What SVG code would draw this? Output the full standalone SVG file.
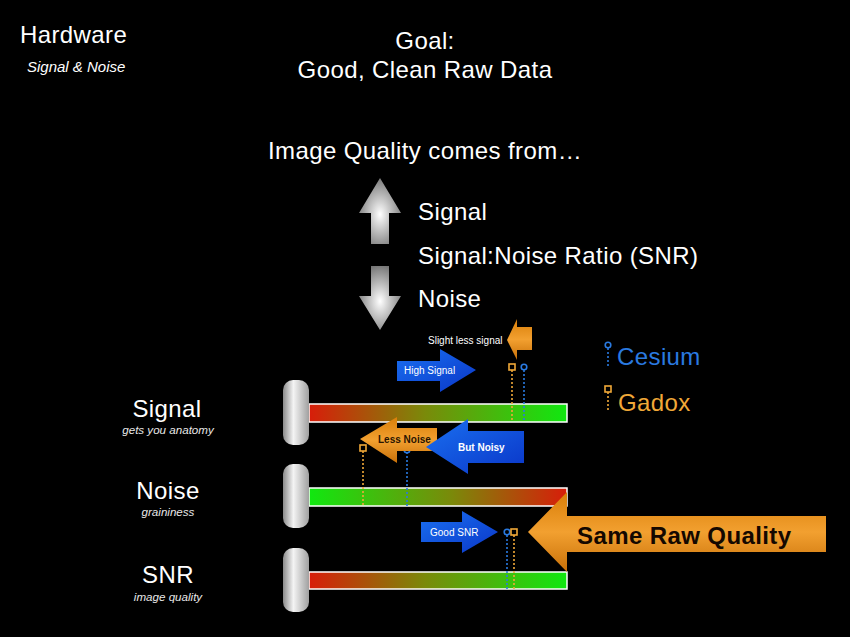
<svg xmlns="http://www.w3.org/2000/svg" width="850" height="637" viewBox="0 0 850 637">
<defs>
<style>
text{font-family:"Liberation Sans",Arial,sans-serif;}
.w{fill:#fff;}
.big{font-size:24px;letter-spacing:0.4px;}
.sub{font-size:11.6px;font-style:italic;fill:#e8e8e8;}
.bar{stroke:#fff;stroke-width:1.5;}
.knob{fill:url(#knob);}
.ces{stroke:#2a7ae0;stroke-width:1.6;stroke-dasharray:2 2;fill:none;}
.gad{stroke:#f0a838;stroke-width:1.6;stroke-dasharray:2 2;fill:none;}
.cesm{stroke:#2a7ae0;stroke-width:1.6;fill:none;}
.gadm{stroke:#f0a838;stroke-width:1.6;fill:none;}
</style>
<linearGradient id="rg" x1="0" x2="1" y1="0" y2="0"><stop offset="0" stop-color="#d81d0a"/><stop offset="0.45" stop-color="#7a8a0a"/><stop offset="1" stop-color="#10e810"/></linearGradient>
<linearGradient id="gr" x1="0" x2="1" y1="0" y2="0"><stop offset="0" stop-color="#10e810"/><stop offset="0.55" stop-color="#7a8a0a"/><stop offset="1" stop-color="#d81d0a"/></linearGradient>
<linearGradient id="knob" x1="0" x2="1" y1="0" y2="0"><stop offset="0" stop-color="#8a8a8a"/><stop offset="0.4" stop-color="#f4f4f4"/><stop offset="1" stop-color="#a0a0a0"/></linearGradient>
<radialGradient id="silver" cx="0.5" cy="0.55" r="0.6"><stop offset="0" stop-color="#ffffff"/><stop offset="1" stop-color="#6e6e6e"/></radialGradient>
<linearGradient id="blue" x1="0" x2="1" y1="0" y2="1"><stop offset="0" stop-color="#1a70f0"/><stop offset="1" stop-color="#0a36c8"/></linearGradient>
<linearGradient id="orange" x1="0" x2="0" y1="0" y2="1"><stop offset="0" stop-color="#d97e08"/><stop offset="0.5" stop-color="#f2a030"/><stop offset="1" stop-color="#c87008"/></linearGradient>
</defs>
<rect width="850" height="637" fill="#000"/>

<g id="title">
<text class="w big" x="20" y="43">Hardware</text>
<text class="w" x="27" y="72" font-size="15" font-style="italic" fill="#e8e8e8">Signal &amp; Noise</text>
<text class="w big" x="425" y="49" text-anchor="middle">Goal:</text>
<text class="w big" x="425" y="78" text-anchor="middle">Good, Clean Raw Data</text>
<text class="w big" x="425" y="159" text-anchor="middle">Image Quality comes from…</text>
</g>

<g id="legend-arrows">
<polygon points="380,178 401,213 389,213 389,244 371,244 371,213 359,213" fill="url(#silver)"/>
<polygon points="371,266 389,266 389,296 401,296 380,330 359,296 371,296" fill="url(#silver)"/>
<text class="w big" x="418" y="220">Signal</text>
<text class="w big" x="418" y="264">Signal:Noise Ratio (SNR)</text>
<text class="w big" x="418" y="307">Noise</text>
</g>

<g id="legend">
<circle class="cesm" cx="608" cy="345" r="2.8"/>
<line class="ces" x1="608" y1="348" x2="608" y2="368"/>
<text class="big" x="617" y="365" fill="#2a7ae0">Cesium</text>
<rect class="gadm" x="605" y="386" width="6" height="6"/>
<line class="gad" x1="608" y1="392" x2="608" y2="412"/>
<text class="big" x="618" y="411" fill="#f0a838">Gadox</text>
</g>

<g id="signal-row">
<text class="w big" x="167" y="417" text-anchor="middle">Signal</text>
<text class="sub" x="168" y="434" text-anchor="middle">gets you anatomy</text>
<rect class="bar" x="309" y="404" width="258" height="18" fill="url(#rg)"/>
<rect class="knob" x="283" y="380" width="26" height="65" rx="10"/>
</g>

<g id="noise-row">
<text class="w big" x="168" y="499" text-anchor="middle">Noise</text>
<text class="sub" x="168" y="516" text-anchor="middle">graininess</text>
<rect class="bar" x="309" y="488" width="258" height="18" fill="url(#gr)"/>
<rect class="knob" x="283" y="464" width="26" height="64" rx="10"/>
</g>

<g id="snr-row">
<text class="w big" x="168" y="583" text-anchor="middle">SNR</text>
<text class="sub" x="168" y="601" text-anchor="middle">image quality</text>
<rect class="bar" x="309" y="572" width="258" height="17" fill="url(#rg)"/>
<rect class="knob" x="283" y="548" width="26" height="64" rx="10"/>
</g>

<g id="connectors">
<line class="gad" x1="512" y1="370" x2="512" y2="422"/>
<line class="ces" x1="524" y1="370" x2="524" y2="422"/>
<line class="gad" x1="363" y1="451" x2="363" y2="506"/>
<line class="ces" x1="407" y1="452" x2="407" y2="506"/>
<line class="ces" x1="507" y1="535" x2="507" y2="589"/>
<line class="gad" x1="514" y1="535" x2="514" y2="589"/>
</g>

<g id="markers">
<rect class="gadm" x="509" y="364" width="6" height="6"/>
<circle class="cesm" cx="524" cy="367" r="2.8"/>
<rect class="gadm" x="360" y="445" width="6" height="6"/>
<circle class="cesm" cx="407" cy="450" r="2.8"/>
<circle class="cesm" cx="507" cy="532" r="2.8"/>
<rect class="gadm" x="511" y="529" width="6" height="6"/>
</g>

<g id="high-signal">
<polygon points="397,361 440,361 440,349 476,370 440,392 440,381 397,381" fill="url(#blue)"/>
<text class="w" x="404" y="374" font-size="10">High Signal</text>
</g>

<g id="slight-less-signal">
<polygon points="507,340 517,319 517,327 532,327 532,350 517,350 517,360" fill="url(#orange)"/>
<text class="w" x="428" y="344" font-size="10">Slight less signal</text>
</g>

<g id="less-noise">
<polygon points="360,439 397,417 397,428 437,428 437,451 397,451 397,463" fill="url(#orange)"/>
<text x="378" y="443" font-size="10" font-weight="bold" fill="#2a1400">Less Noise</text>
</g>

<g id="but-noisy">
<polygon points="426,447 468,419 468,431 524,431 524,463 468,463 468,474" fill="url(#blue)"/>
<text class="w" x="458" y="451" font-size="10" font-weight="bold">But Noisy</text>
</g>

<g id="good-snr">
<polygon points="421,522 462,522 462,511 498,532 462,553 462,542 421,542" fill="url(#blue)"/>
<text class="w" x="430" y="536" font-size="10">Good SNR</text>
</g>

<g id="same-raw-quality">
<polygon points="528,532 567,492 567,516 826,516 826,552 567,552 567,572" fill="url(#orange)"/>
<text x="577" y="544" font-size="24" font-weight="bold" letter-spacing="0.4" fill="#140800">Same Raw Quality</text>
</g>
</svg>
